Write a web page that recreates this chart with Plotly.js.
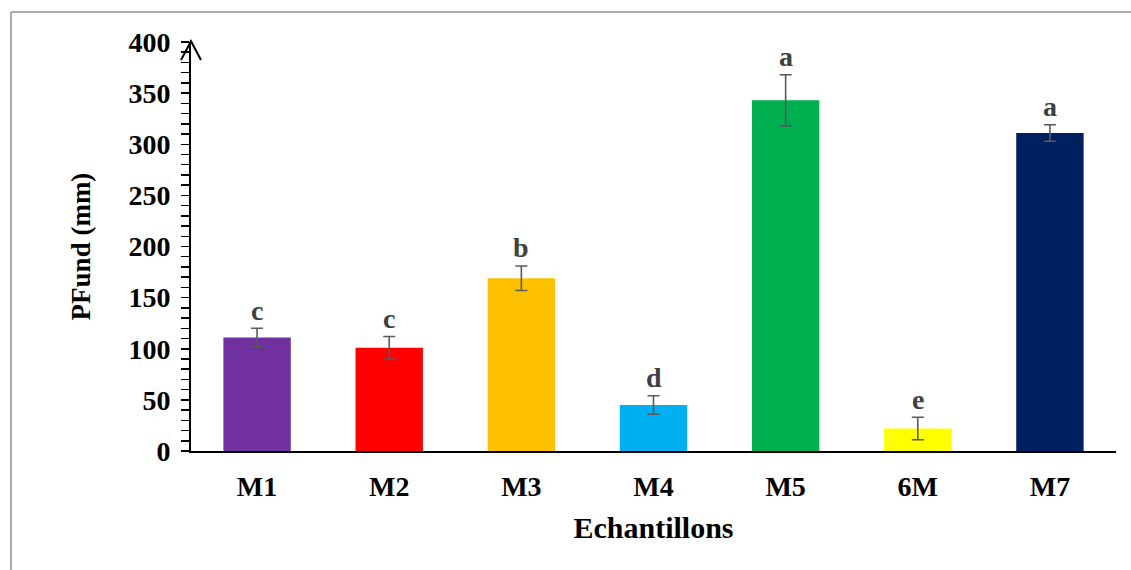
<!DOCTYPE html>
<html>
<head>
<meta charset="utf-8">
<script src="https://cdn.plot.ly/plotly-3.0.1.min.js"></script>
<style>html,body{margin:0;padding:0;background:#fff;}#chart{width:1131px;height:570px;}</style>
</head>
<body>
<div id="chart"></div>
<script>
const categories = ["M1", "M2", "M3", "M4", "M5", "6M", "M7"];
const values = [111, 101, 169, 45, 343, 22, 311];
const errors = [9, 11, 12, 9, 25, 11, 8];
const letters = ["c", "c", "b", "d", "a", "e", "a"];
const colors = ["#7030A0", "#FF0000", "#FFC000", "#00B0F0", "#00B050", "#FFFF00", "#002060"];

const FONT = "'Liberation Serif', 'Times New Roman', serif";

const trace = {
  type: "bar",
  x: categories,
  y: values,
  marker: {color: colors},
  error_y: {type: "data", array: errors, visible: true, color: "#595959", thickness: 1.6, width: 6},
  hoverinfo: "x+y"
};

const annotations = categories.map((c, i) => ({
  x: c, y: values[i] + errors[i], xref: "x", yref: "y",
  text: "<b>" + letters[i] + "</b>", showarrow: false,
  yanchor: "middle", yshift: 18,
  font: {family: FONT, size: 28, color: "#404040"}
}));

const layout = {
  width: 1131, height: 570,
  margin: {l: 191, r: 15, t: 42, b: 119, pad: 0},
  paper_bgcolor: "#ffffff", plot_bgcolor: "#ffffff",
  showlegend: false,
  bargap: 0.49,
  xaxis: {
    type: "category",
    showline: true, linecolor: "#000000", linewidth: 2,
    ticks: "", showgrid: false, zeroline: false,
    tickfont: {family: FONT, size: 28, color: "#000000", weight: "bold"},
    ticklabelstandoff: 9,
    title: {text: "<b>Echantillons</b>", font: {family: FONT, size: 30, color: "#000000"}, standoff: 16}
  },
  yaxis: {
    range: [0, 400], dtick: 50, tick0: 0,
    showline: true, linecolor: "#000000", linewidth: 2,
    ticks: "outside", ticklen: 8, tickwidth: 1.5, tickcolor: "#000000",
    minor: {dtick: 10, ticks: "outside", ticklen: 8, tickwidth: 1.5, tickcolor: "#000000", showgrid: false},
    showgrid: false, zeroline: false,
    tickfont: {family: FONT, size: 28, color: "#000000", weight: "bold"},
    ticklabelstandoff: 5,
    title: {text: "<b>PFund (mm)</b>", font: {family: FONT, size: 27, color: "#000000"}, standoff: 30}
  },
  annotations: annotations,
  shapes: [
    {type: "path", xref: "paper", yref: "paper",
     path: "M -0.0108,0.956 L 0,1.002 L 0.0108,0.956",
     line: {color: "#000000", width: 2}},
    {type: "rect", xref: "paper", yref: "paper",
     x0: -0.1946, y0: 1.0733, x1: 1.03, y1: -0.32,
     line: {color: "#595959", width: 1}, fillcolor: "rgba(0,0,0,0)", layer: "below"}
  ]
};

Plotly.newPlot("chart", [trace], layout, {displayModeBar: false, staticPlot: true});
</script>
</body>
</html>
